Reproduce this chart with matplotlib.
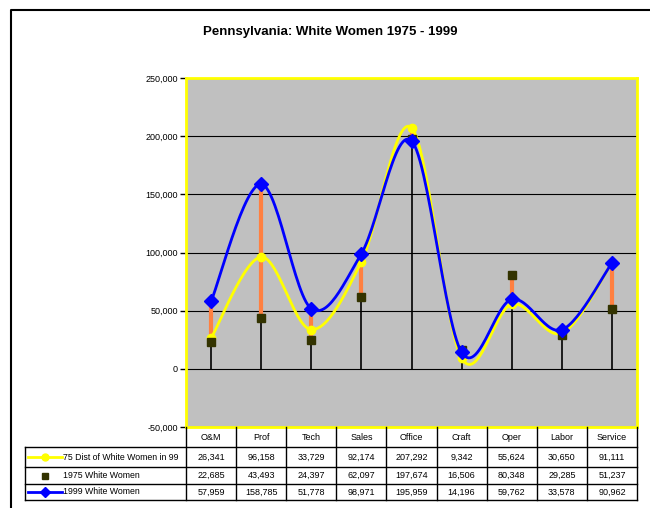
import matplotlib
matplotlib.use('Agg')
import matplotlib.pyplot as plt
from matplotlib.lines import Line2D
import numpy as np

plt.rcParams['font.family'] = ['Liberation Sans', 'DejaVu Sans']

categories = ['O&M', 'Prof', 'Tech', 'Sales', 'Office', 'Craft', 'Oper', 'Labor', 'Service']
dist75 = [26341, 96158, 33729, 92174, 207292, 9342, 55624, 30650, 91111]
women75 = [22685, 43493, 24397, 62097, 197674, 16506, 80348, 29285, 51237]
women99 = [57959, 158785, 51778, 98971, 195959, 14196, 59762, 33578, 90962]
series_names = ['75 Dist of White Women in 99', '1975 White Women', '1999 White Women']

W, H = 650, 508


def fx(px):
    return px / W


def fy(py):
    return 1 - py / H


def smooth(xs, ys, n=30):
    # excel style smoothed line (catmull-rom through the points)
    xs = np.asarray(xs, float)
    ys = np.asarray(ys, float)
    px = np.concatenate([[xs[0]], xs, [xs[-1]]])
    py = np.concatenate([[ys[0]], ys, [ys[-1]]])
    outx, outy = [], []
    t = np.linspace(0, 1, n)
    for i in range(1, len(px) - 2):
        b0x, b0y = px[i], py[i]
        b1x, b1y = px[i] + (px[i + 1] - px[i - 1]) / 6, py[i] + (py[i + 1] - py[i - 1]) / 6
        b2x, b2y = px[i + 1] - (px[i + 2] - px[i]) / 6, py[i + 1] - (py[i + 2] - py[i]) / 6
        b3x, b3y = px[i + 1], py[i + 1]
        bx = (1 - t) ** 3 * b0x + 3 * (1 - t) ** 2 * t * b1x + 3 * (1 - t) * t ** 2 * b2x + t ** 3 * b3x
        by = (1 - t) ** 3 * b0y + 3 * (1 - t) ** 2 * t * b1y + 3 * (1 - t) * t ** 2 * b2y + t ** 3 * b3y
        outx.extend(bx)
        outy.extend(by)
    return outx, outy


fig = plt.figure(figsize=(6.5, 5.08), dpi=100)

# chart border
fig.add_artist(Line2D([fx(11), fx(11), fx(650)], [fy(508), fy(10), fy(10)],
                      transform=fig.transFigure, color='black', lw=1.5))

fig.text(fx(330), fy(32), 'Pennsylvania: White Women 1975 - 1999', ha='center', va='center',
         fontsize=9.5, fontweight='bold')

ax = fig.add_axes([fx(186), fy(427), fx(637) - fx(186), fy(78) - fy(427)])
ax.set_facecolor('#c0c0c0')
x = np.arange(len(categories))

for yv in range(-50000, 250001, 50000):
    ax.axhline(yv, color='black', lw=0.8, zorder=1)

hi = np.max([dist75, women75, women99], axis=0)
lo = np.min([dist75, women75, women99], axis=0)
ax.vlines(x, 0, hi, color='black', lw=1.2, zorder=2)
ax.vlines(x, lo, hi, color='#ff8040', lw=3, zorder=3)

sx, sy = smooth(x, dist75)
ax.plot(sx, sy, color='#ffff00', lw=2, zorder=4)
ax.plot(x, dist75, 'o', color='#ffff00', ms=6, zorder=4)
ax.plot(x, women75, 's', color='#333300', ms=6, zorder=5)
sx, sy = smooth(x, women99)
ax.plot(sx, sy, color='#0000ff', lw=2, zorder=6)
ax.plot(x, women99, 'D', color='#0000ff', ms=7, zorder=6)

ax.set_xlim(-0.5, len(categories) - 0.5)
ax.set_ylim(-50000, 250000)
ax.set_yticks(range(-50000, 250001, 50000))
ax.set_yticklabels([f'{v:,}' for v in range(-50000, 250001, 50000)], fontsize=6.5)
ax.tick_params(axis='y', length=4, width=1, color='black', pad=2)
ax.set_xticks([])
for s in ax.spines.values():
    s.set_color('#ffff00')
    s.set_linewidth(2)

# data table
colw = (637 - 186) / len(categories)
rows_y = [427, 447, 467, 484, 500]
tl = dict(transform=fig.transFigure, color='black', lw=1)
for i in range(len(categories) + 1):
    xp = 186 + i * colw
    fig.add_artist(Line2D([fx(xp), fx(xp)], [fy(427), fy(500)], **tl))
fig.add_artist(Line2D([fx(25), fx(25)], [fy(447), fy(500)], **tl))
for yp in rows_y[1:]:
    fig.add_artist(Line2D([fx(25), fx(637)], [fy(yp), fy(yp)], **tl))

for i, c in enumerate(categories):
    fig.text(fx(186 + (i + 0.5) * colw), fy(437), c, ha='center', va='center', fontsize=6.5)

table_rows = [dist75, women75, women99]
for r, vals in enumerate(table_rows):
    yc = (rows_y[r + 1] + rows_y[r + 2]) / 2
    for i, v in enumerate(vals):
        fig.text(fx(186 + (i + 0.5) * colw), fy(yc), f'{v:,}', ha='center', va='center', fontsize=6.5)
    fig.text(fx(63), fy(yc), series_names[r], ha='left', va='center', fontsize=6.3)

# legend keys
yc = [(rows_y[k] + rows_y[k + 1]) / 2 for k in (1, 2, 3)]
fig.add_artist(Line2D([fx(28), fx(62)], [fy(yc[0]), fy(yc[0])], transform=fig.transFigure,
                      color='#ffff00', lw=2))
fig.add_artist(Line2D([fx(45)], [fy(yc[0])], transform=fig.transFigure,
                      color='#ffff00', lw=0, marker='o', ms=5))
fig.add_artist(Line2D([fx(45)], [fy(yc[1])], transform=fig.transFigure,
                      color='#333300', lw=0, marker='s', ms=5))
fig.add_artist(Line2D([fx(28), fx(62)], [fy(yc[2]), fy(yc[2])], transform=fig.transFigure,
                      color='#0000ff', lw=2))
fig.add_artist(Line2D([fx(45)], [fy(yc[2])], transform=fig.transFigure,
                      color='#0000ff', lw=0, marker='D', ms=5))

fig.savefig('out.png', dpi=100)
